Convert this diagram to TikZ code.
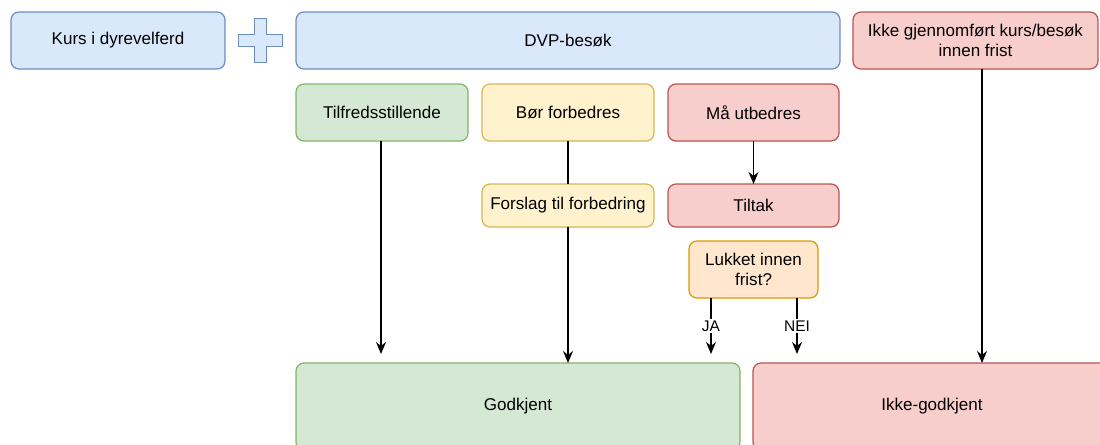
\documentclass[tikz,border=0pt]{standalone}
\usepackage{fontspec}
\setmainfont{Liberation Sans}
\usetikzlibrary{arrows.meta}

\definecolor{blueFill}{HTML}{DAE8FC}
\definecolor{blueLine}{HTML}{6C8EBF}
\definecolor{greenFill}{HTML}{D5E8D4}
\definecolor{greenLine}{HTML}{82B366}
\definecolor{yellowFill}{HTML}{FFF2CC}
\definecolor{yellowLine}{HTML}{D6B656}
\definecolor{redFill}{HTML}{F8CECC}
\definecolor{redLine}{HTML}{B85450}
\definecolor{orangeFill}{HTML}{FFE6CC}
\definecolor{orangeLine}{HTML}{D79B00}

\begin{document}
\begin{tikzpicture}[every node/.style={draw, rounded corners=1.6mm, line width=0.7pt, align=center, inner sep=0pt, outer sep=0pt, font=\fontsize{9.7}{11.4}\selectfont},
bluebox/.style={fill=blueFill, draw=blueLine},
greenbox/.style={fill=greenFill, draw=greenLine},
yellowbox/.style={fill=yellowFill, draw=yellowLine},
redbox/.style={fill=redFill, draw=redLine},
orangebox/.style={fill=orangeFill, draw=orangeLine},
wide/.style={minimum width=3.44cm, minimum height=1.14cm},
flat/.style={minimum width=3.44cm, minimum height=0.86cm},
lbl/.style={draw=none, fill=white, rounded corners=0pt, inner sep=1pt, font=\fontsize{8.8}{10}\selectfont},
arr/.style={-{Stealth[length=2.4mm, width=2mm]}, line width=0.7pt},
line/.style={line width=0.7pt}]
\useasboundingbox (0,0) rectangle (22,-8.88);

% top row
\node[bluebox, minimum width=4.28cm, minimum height=1.14cm] (kurs) at (2.36,-0.81) {Kurs i dyrevelferd};
\node[bluebox, minimum width=10.88cm, minimum height=1.14cm] (dvp) at (11.36,-0.81) {DVP-besøk};
\node[redbox, minimum width=4.9cm, minimum height=1.14cm] (ikke) at (19.51,-0.81) {Ikke gjennomført kurs/besøk\\innen frist};
\draw[blueLine, fill=blueFill, line width=0.7pt] (5.09,-0.37) -- (5.33,-0.37) -- (5.33,-0.69) -- (5.65,-0.69) -- (5.65,-0.93) -- (5.33,-0.93) -- (5.33,-1.25) -- (5.09,-1.25) -- (5.09,-0.93) -- (4.77,-0.93) -- (4.77,-0.69) -- (5.09,-0.69) -- cycle;

% results of the visit
\node[greenbox, wide] (tilf) at (7.64,-2.25) {Tilfredsstillende};
\node[yellowbox, wide] (bor) at (11.36,-2.25) {Bør forbedres};
\node[redbox, wide, minimum width=3.42cm] (maa) at (15.07,-2.25) {Må utbedres};
\node[yellowbox, flat] (forslag) at (11.36,-4.11) {Forslag til forbedring};
\node[redbox, flat, minimum width=3.42cm] (tiltak) at (15.07,-4.11) {Tiltak};
\node[orangebox, minimum width=2.58cm, minimum height=1.14cm] (lukket) at (15.07,-5.39) {Lukket innen\\frist?};

% outcome
\node[greenbox, minimum width=8.88cm, minimum height=1.74cm] (godk) at (10.36,-8.13) {Godkjent};
\node[redbox, minimum width=7.16cm, minimum height=1.74cm] (ikkeg) at (18.64,-8.13) {Ikke-godkjent};

% connectors
\coordinate (tilfEnd) at (7.62,-7.08);
\coordinate (jaEnd) at (14.22,-7.08);
\coordinate (neiEnd) at (15.94,-7.08);
\coordinate (ikkeX) at (19.64,0);
\draw[arr] (tilf.south -| tilfEnd) -- (tilfEnd);
\draw[line] (bor) -- (forslag);
\draw[arr] (forslag) -- (forslag |- godk.north);
\draw[arr] (maa) -- (tiltak);
\draw[arr] (lukket.south -| jaEnd) -- node[lbl] {JA} (jaEnd);
\draw[arr] (lukket.south -| neiEnd) -- node[lbl] {NEI} (neiEnd);
\draw[arr] (ikke.south -| ikkeX) -- (ikkeX |- ikkeg.north);
\end{tikzpicture}
\end{document}
